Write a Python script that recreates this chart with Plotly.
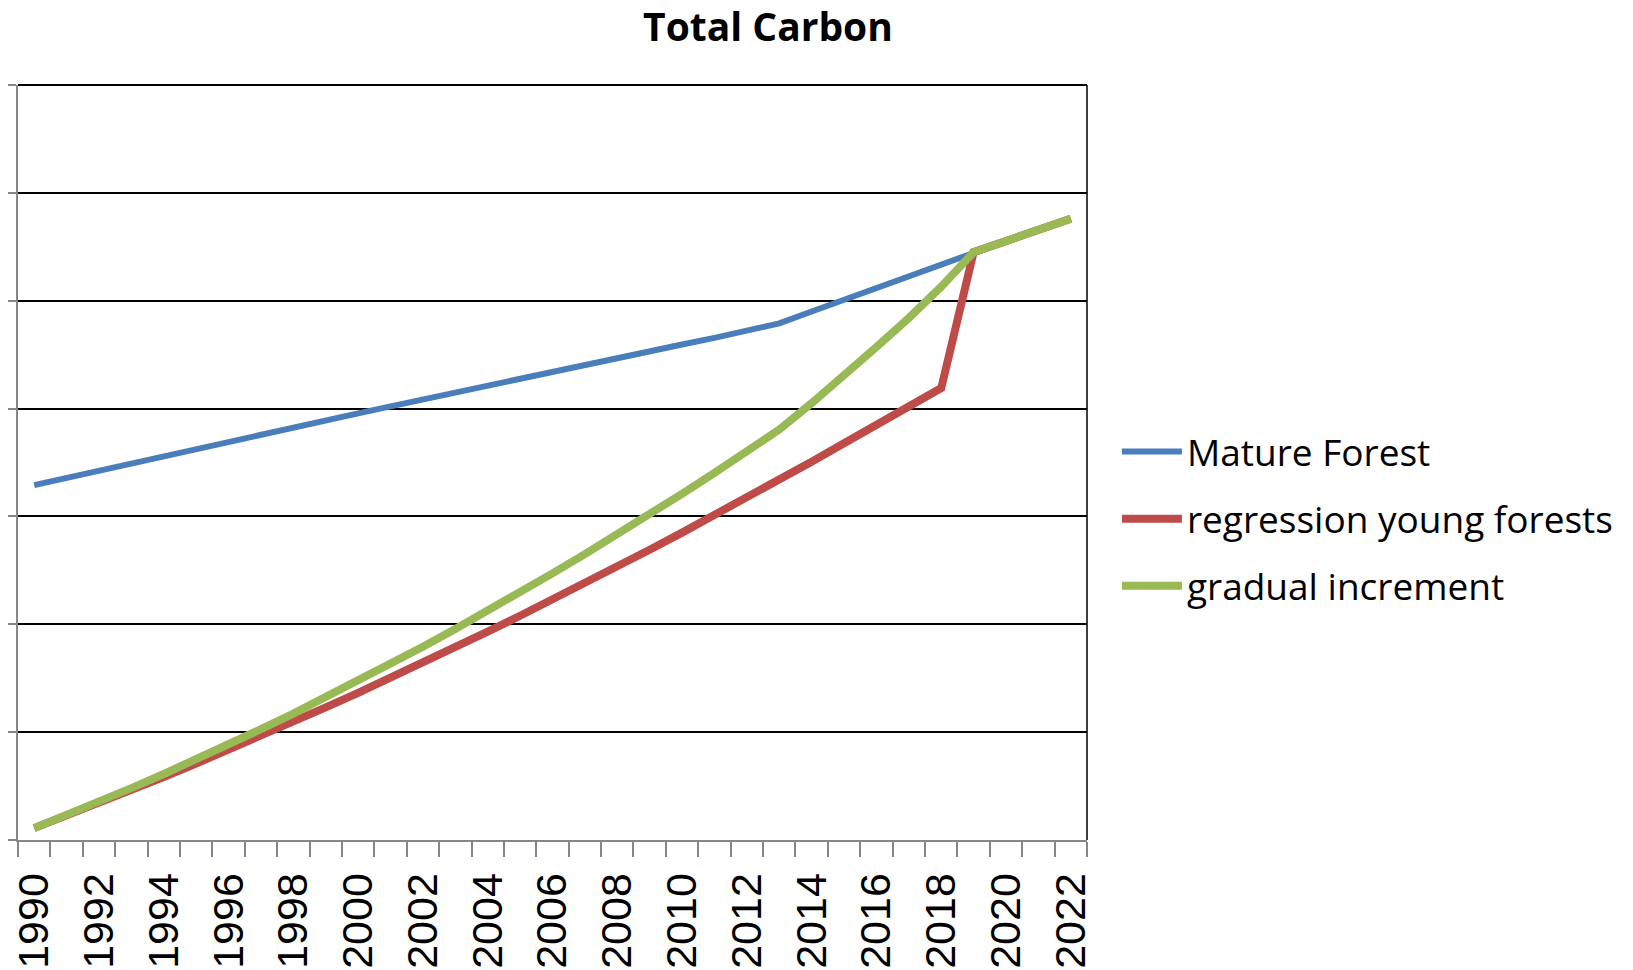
import plotly.graph_objects as go

years = list(range(1990, 2023))

mature_forest = [3.290, 3.358, 3.425, 3.493, 3.560, 3.627, 3.693, 3.759, 3.825, 3.891,
                 3.956, 4.021, 4.086, 4.150, 4.215, 4.279, 4.342, 4.405, 4.468, 4.531,
                 4.594, 4.656, 4.718, 4.790, 4.900, 5.010, 5.120, 5.230, 5.340, 5.450,
                 5.550, 5.660, 5.760]

regression_young = [0.110, 0.225, 0.343, 0.462, 0.584, 0.709, 0.835, 0.964, 1.096, 1.229,
                    1.365, 1.503, 1.644, 1.787, 1.931, 2.079, 2.228, 2.380, 2.535, 2.691,
                    2.850, 3.011, 3.175, 3.341, 3.508, 3.679, 3.852, 4.026, 4.190, 5.450,
                    5.550, 5.660, 5.760]

gradual_increment = [0.110, 0.230, 0.353, 0.481, 0.612, 0.746, 0.885, 1.027, 1.172, 1.322,
                     1.475, 1.632, 1.792, 1.957, 2.125, 2.296, 2.472, 2.651, 2.833, 3.020,
                     3.210, 3.404, 3.601, 3.805, 4.050, 4.305, 4.570, 4.840, 5.130, 5.450,
                     5.550, 5.660, 5.760]

label_years = list(range(1990, 2023, 2))
boundaries = [y - 0.5 for y in range(1990, 2024)]

fig = go.Figure()
fig.add_trace(go.Scatter(x=years, y=mature_forest, mode="lines", name="Mature Forest",
                         legendgroup="a", line=dict(color="#4A7EBB", width=6)))
fig.add_trace(go.Scatter(x=years, y=regression_young, mode="lines", name="regression young forests",
                         legendgroup="b", line=dict(color="#BE4B48", width=8)))
fig.add_trace(go.Scatter(x=years, y=gradual_increment, mode="lines", name="gradual increment",
                         legendgroup="c", line=dict(color="#98B954", width=8)))

fig.update_layout(
    width=1625, height=962,
    margin=dict(l=10, r=546, t=77, b=130, autoexpand=False),
    paper_bgcolor="white", plot_bgcolor="white",
    title=dict(text="<b>Total Carbon</b>", x=760 / 1625, xref="container", xanchor="center",
               y=1 - 19 / 962, yref="container", yanchor="middle",
               font=dict(family="Open Sans", size=39, color="black")),
    showlegend=True,
    legend=dict(x=1.028, xanchor="left", y=0.555, yanchor="top",
                font=dict(family="Open Sans", size=37, color="black"),
                traceorder="grouped", tracegroupgap=16, itemwidth=60,
                bgcolor="rgba(0,0,0,0)"),
    xaxis=dict(range=[1989.5, 2022.5], tickmode="array", tickvals=label_years,
               ticktext=[str(y) for y in label_years], tickangle=-90, ticks="",
               tickfont=dict(family="Liberation Sans", size=43, color="black"),
               ticklabelstandoff=14, automargin=False,
               showgrid=False, zeroline=False, showline=True, linecolor="#868686", linewidth=2,
               minor=dict(tickmode="array", tickvals=boundaries, ticks="outside", ticklen=15,
                          tickcolor="#868686", tickwidth=2, showgrid=False)),
    yaxis=dict(range=[0, 7], dtick=1, showticklabels=False, ticks="outside", ticklen=9,
               tickcolor="#868686", tickwidth=2, showgrid=True, gridcolor="black", gridwidth=1.5,
               zeroline=False, showline=True, linecolor="#868686", linewidth=2, automargin=False),
    shapes=[dict(type="line", xref="paper", yref="paper", x0=1, x1=1, y0=0, y1=1,
                 line=dict(color="black", width=1.5)),
            dict(type="line", xref="paper", yref="paper", x0=0, x1=1, y0=1, y1=1,
                 line=dict(color="black", width=2))],
)

fig.write_html("out.html")
